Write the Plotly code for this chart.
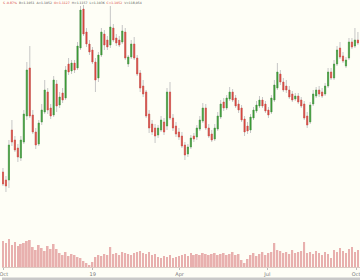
import pandas as pd
import plotly.graph_objects as go

# ---- data ----
dates = pd.date_range("2018-09-30", "2019-10-02 20:00", periods=120)

opens = [1.0920, 1.0912, 1.0912, 1.0962, 1.0952, 1.0944, 1.0934, 1.0950, 1.0976, 1.1024,
         1.0977, 1.0960, 1.0948, 1.0970, 1.0980, 1.1000, 1.0984, 1.0977, 1.1008, 1.0987,
         1.0999, 1.0994, 1.1028, 1.1021, 1.1029, 1.1024, 1.1044, 1.1083, 1.1060, 1.1048,
         1.1042, 1.1030, 1.1014, 1.1037, 1.1058, 1.1052, 1.1047, 1.1064, 1.1054, 1.1052,
         1.1050, 1.1060, 1.1028, 1.1035, 1.1048, 1.1034, 1.1019, 1.1006, 1.1000, 1.0978,
         1.0968, 1.0964, 1.0957, 1.0962, 1.0970, 1.0966, 1.1000, 1.0974, 1.0966, 1.0960,
         1.0956, 1.0947, 1.0938, 1.0945, 1.0956, 1.0955, 1.0963, 1.0971, 1.0984, 1.0964,
         1.0958, 1.0953, 1.0963, 1.0975, 1.0990, 1.0984, 1.0993, 1.1000, 1.0994, 1.0988,
         1.0984, 1.0973, 1.0966, 1.0962, 1.0974, 1.0981, 1.0986, 1.0992, 1.0988, 1.0982,
         1.0980, 1.0992, 1.1004, 1.1018, 1.1010, 1.1006, 1.1002, 1.0998, 1.0993, 1.0996,
         1.0992, 1.0988, 1.0976, 1.0970, 1.0988, 1.0996, 1.1002, 1.1000, 1.0998, 1.1006,
         1.1020, 1.1014, 1.1028, 1.1044, 1.1036, 1.1026, 1.1034, 1.1050, 1.1046, 1.1052]

closes = [1.0908, 1.0906, 1.0947, 1.0950, 1.0942, 1.0935, 1.0952, 1.0978, 1.1022, 1.0976,
          1.0960, 1.0947, 1.0969, 1.0982, 1.1002, 1.0982, 1.0976, 1.1012, 1.0986, 1.0995,
          1.0992, 1.1022, 1.1020, 1.1029, 1.1022, 1.1046, 1.1082, 1.1058, 1.1048, 1.1040,
          1.1030, 1.1012, 1.1037, 1.1060, 1.1047, 1.1045, 1.1065, 1.1052, 1.1049, 1.1047,
          1.1061, 1.1034, 1.1035, 1.1048, 1.1034, 1.1018, 1.1004, 1.0998, 1.0976, 1.0964,
          1.0960, 1.0956, 1.0964, 1.0972, 1.0960, 1.1000, 1.0974, 1.0964, 1.0958, 1.0955,
          1.0946, 1.0937, 1.0945, 1.0954, 1.0953, 1.0964, 1.0972, 1.0984, 1.0964, 1.0956,
          1.0952, 1.0964, 1.0976, 1.0988, 1.0984, 1.0994, 1.1000, 1.0992, 1.0986, 1.0982,
          1.0972, 1.0960, 1.0961, 1.0975, 1.0982, 1.0987, 1.0992, 1.0986, 1.0981, 1.0977,
          1.0994, 1.1007, 1.1020, 1.1010, 1.1002, 1.1002, 1.0995, 1.0992, 1.0996, 1.0990,
          1.0986, 1.0974, 1.0967, 1.0987, 1.0998, 1.1002, 1.0998, 1.0996, 1.1006, 1.1020,
          1.1014, 1.1028, 1.1042, 1.1035, 1.1031, 1.1032, 1.1050, 1.1045, 1.1052, 1.1049]

highs = [1.0924, 1.0916, 1.0952, 1.0972, 1.0956, 1.0948, 1.0956, 1.0982, 1.1030, 1.1046,
         1.0982, 1.0964, 1.0972, 1.0988, 1.1012, 1.1004, 1.0988, 1.1016, 1.1012, 1.1000,
         1.1004, 1.1026, 1.1034, 1.1032, 1.1032, 1.1050, 1.1086, 1.1087, 1.1064, 1.1052,
         1.1045, 1.1034, 1.1040, 1.1064, 1.1062, 1.1056, 1.1086, 1.1068, 1.1058, 1.1056,
         1.1067, 1.1064, 1.1037, 1.1052, 1.1055, 1.1037, 1.1022, 1.1012, 1.1002, 1.0982,
         1.0972, 1.0968, 1.0967, 1.0976, 1.0974, 1.1004, 1.1010, 1.0978, 1.0970, 1.0964,
         1.0960, 1.0950, 1.0948, 1.0957, 1.0959, 1.0967, 1.0976, 1.0989, 1.0988, 1.0968,
         1.0962, 1.0968, 1.0980, 1.0992, 1.0994, 1.0997, 1.1005, 1.1003, 1.0997, 1.0992,
         1.0987, 1.0976, 1.0970, 1.0978, 1.0985, 1.0991, 1.0996, 1.0995, 1.0991, 1.0985,
         1.0997, 1.1012, 1.1029, 1.1022, 1.1014, 1.1012, 1.1006, 1.1001, 1.0999, 1.0999,
         1.0995, 1.0991, 1.0980, 1.0990, 1.1002, 1.1005, 1.1006, 1.1004, 1.1009, 1.1024,
         1.1024, 1.1032, 1.1046, 1.1050, 1.1040, 1.1035, 1.1054, 1.1054, 1.1064, 1.1060]

lows = [1.0906, 1.0900, 1.0904, 1.0946, 1.0940, 1.0930, 1.0931, 1.0948, 1.0972, 1.0974,
        1.0958, 1.0943, 1.0946, 1.0967, 1.0978, 1.0978, 1.0973, 1.0975, 1.0980, 1.0984,
        1.0989, 1.0992, 1.1017, 1.1018, 1.1019, 1.1022, 1.1042, 1.1056, 1.1045, 1.1037,
        1.1028, 1.1000, 1.1010, 1.1035, 1.1042, 1.1042, 1.1044, 1.1050, 1.1046, 1.1045,
        1.1048, 1.1032, 1.1025, 1.1033, 1.1032, 1.1016, 1.1000, 1.0995, 1.0974, 1.0959,
        1.0957, 1.0949, 1.0954, 1.0960, 1.0957, 1.0962, 1.0972, 1.0961, 1.0955, 1.0952,
        1.0944, 1.0932, 1.0935, 1.0943, 1.0950, 1.0952, 1.0961, 1.0969, 1.0962, 1.0954,
        1.0950, 1.0951, 1.0961, 1.0973, 1.0981, 1.0982, 1.0991, 1.0990, 1.0984, 1.0979,
        1.0970, 1.0956, 1.0958, 1.0959, 1.0972, 1.0979, 1.0984, 1.0984, 1.0979, 1.0974,
        1.0978, 1.0990, 1.1002, 1.1007, 1.1000, 1.0999, 1.0993, 1.0990, 1.0991, 1.0988,
        1.0984, 1.0972, 1.0964, 1.0968, 1.0986, 1.0994, 1.0995, 1.0994, 1.0996, 1.1004,
        1.1012, 1.1012, 1.1026, 1.1033, 1.1029, 1.1024, 1.1032, 1.1043, 1.1044, 1.1047]

volume_k = [130, 120, 140, 110, 125, 105, 115, 120, 130, 135,
            100, 85, 110, 95, 80, 105, 90, 115,
            90, 70, 60, 75, 55, 65,
            60, 50, 45,
            30, 20, 10, 25,
            50, 60, 55, 65, 60, 100,
            65, 70, 60, 75, 70, 65, 60, 70,
            75, 80, 70, 65, 75, 60, 65,
            50, 45, 55, 50, 60, 45, 50, 55,
            60, 65, 55, 70, 60, 65, 60, 70, 65, 60,
            65, 70, 60, 65, 70, 60, 65, 75, 60, 65,
            35, 20, 40,
            60, 70, 55, 65, 75, 60, 70,
            75, 120, 85,
            80, 70, 75, 65, 85, 70, 75, 80,
            125,
            70, 75, 65, 80, 70, 60, 75, 65,
            45,
            85, 75, 95, 80, 70, 90, 100, 75, 85]

tick_dates = ["2018-10-01", "2019-01-01", "2019-04-01", "2019-07-01", "2019-10-01"]
tick_labels = ["Oct", "19", "Apr", "Jul", "Oct"]

header_items = [("S -0.87%", "#d9463e"), ("B=1.1051", "#555555"), ("A=1.1052", "#555555"),
                ("O=1.1127", "#d9463e"), ("H=1.1157", "#555555"), ("L=1.1036", "#555555"),
                ("C=1.1052", "#d9463e"), ("V=118,054", "#555555")]

# ---- styling ----
BG = "#fefef6"
UP = "#3b9a35"
DOWN = "#d9463e"
WICK = "#c6c6c6"
VOL = "#e8b0ae"

body_hi = [max(o, c) for o, c in zip(opens, closes)]
body_lo = [min(o, c) for o, c in zip(opens, closes)]

fig = go.Figure()

# wicks (grey)
fig.add_trace(go.Candlestick(
    x=dates, open=opens, high=highs, low=lows, close=closes,
    increasing=dict(line=dict(color=WICK, width=1), fillcolor=WICK),
    decreasing=dict(line=dict(color=WICK, width=1), fillcolor=WICK),
    showlegend=False, hoverinfo="skip"))

# bodies (coloured)
fig.add_trace(go.Candlestick(
    x=dates, open=opens, high=body_hi, low=body_lo, close=closes,
    increasing=dict(line=dict(color=UP, width=0.5), fillcolor=UP),
    decreasing=dict(line=dict(color=DOWN, width=0.5), fillcolor=DOWN),
    showlegend=False))

# volume
fig.add_trace(go.Bar(
    x=dates, y=volume_k, yaxis="y2",
    marker=dict(color=VOL, line=dict(width=0)),
    width=1.8 * 86400000, showlegend=False))

header = "  ".join(f'<span style="color:{c}">{t}</span>' for t, c in header_items)

fig.update_layout(
    width=360, height=280,
    margin=dict(l=0, r=0, t=0, b=13),
    paper_bgcolor=BG, plot_bgcolor=BG,
    boxgap=0.45,
    xaxis=dict(
        type="date",
        range=["2018-09-29", "2019-10-05"],
        rangeslider=dict(visible=False),
        showgrid=False, zeroline=False,
        showline=True, linecolor="#dccbc4", linewidth=1,
        tickvals=tick_dates, ticktext=tick_labels,
        ticks="outside", ticklen=2, tickcolor="#bbbbbb",
        ticklabeloverflow="allow",
        tickfont=dict(family="DejaVu Sans", size=5, color="#777777"),
    ),
    yaxis=dict(range=[1.0825, 1.1092], visible=False, showgrid=False, zeroline=False),
    yaxis2=dict(range=[0, 1335], overlaying="y", visible=False,
                showgrid=False, zeroline=False),
    annotations=[dict(
        text=header, x=-0.003, y=(267 - 3) / 267, xref="paper", yref="paper",
        xanchor="left", yanchor="middle", showarrow=False,
        font=dict(family="DejaVu Sans", size=3.1, color="#555555"))],
    shapes=[
        dict(type="rect", xref="paper", yref="paper", x0=0, x1=1,
             y0=(267 - 280) / 267, y1=(267 - 277.5) / 267,
             fillcolor="#c8c8c8", line=dict(width=0), layer="above"),
    ],
)

fig.write_html("out.html")
